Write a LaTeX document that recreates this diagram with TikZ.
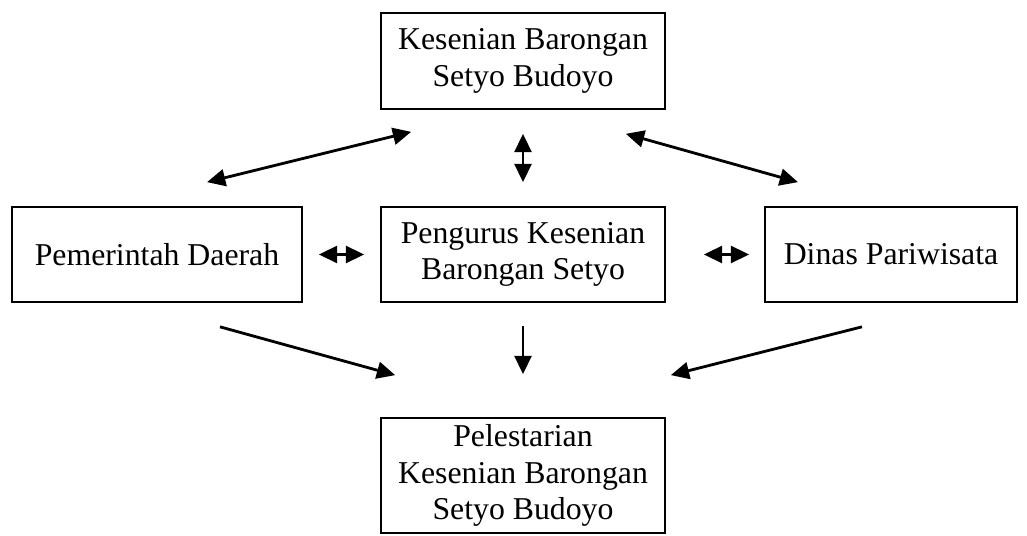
\documentclass[tikz,border=0pt]{standalone}
\usepackage{fontspec}
\setmainfont{Liberation Serif}
\usepackage{tikz}
\usetikzlibrary{calc,arrows.meta}
\tikzset{
  box/.style={draw=black, line width=1.2pt, align=center, inner sep=0pt,
    font=\fontsize{22.6}{26}\selectfont},
  link/.style={draw=black, line width=2pt, -{Triangle[length=13pt,width=12pt]}},
  twoway/.style={draw=black, line width=2pt, {Triangle[length=13pt,width=12pt]}-{Triangle[length=13pt,width=12pt]}}
}

\begin{document}
\begin{tikzpicture}[x=0.025cm,y=-0.025cm]
  \useasboundingbox (0,0) rectangle (1027,536);
  \node[box, minimum width=284*0.025cm, minimum height=96*0.025cm] (seni) at (523,61)
    {Kesenian Barongan\\Setyo Budoyo};
  \node[box, minimum width=290*0.025cm, minimum height=95*0.025cm] (pemda) at (157,254.5)
    {Pemerintah Daerah};
  \node[box, minimum width=284*0.025cm, minimum height=95*0.025cm] (urus) at (523,254.5)
    {Pengurus Kesenian\\Barongan Setyo};
  \node[box, minimum width=252*0.025cm, minimum height=95*0.025cm] (dinas) at (891,254.5)
    {Dinas Pariwisata};
  \node[box, minimum width=284*0.025cm, minimum height=115*0.025cm] (lestari) at (523,475.5)
    {Pelestarian\\Kesenian Barongan\\Setyo Budoyo};
  % arrows between the boxes
  \draw[twoway] ($(pemda.north)+(50,-24)$) -- ($(seni.south west)+(31,22)$);
  \draw[twoway, shorten <=24*0.025cm, shorten >=24*0.025cm] (seni.south) -- (urus.north);
  \draw[twoway] ($(seni.south east)+(-40,24)$) -- ($(dinas.north)+(-93,-24)$);
  \draw[twoway, shorten <=16*0.025cm, shorten >=16*0.025cm] (pemda.east) -- (urus.west);
  \draw[twoway, shorten <=38*0.025cm, shorten >=15*0.025cm] (urus.east) -- (dinas.west);
  \draw[link] ($(pemda.south)+(63,24)$) -- ($(lestari.north west)+(15,-42)$);
  \draw[link, shorten <=23*0.025cm, shorten >=43*0.025cm] (urus.south) -- (lestari.north);
  \draw[link] ($(dinas.south)+(-29,24)$) -- ($(lestari.north east)+(5,-42)$);
\end{tikzpicture}
\end{document}
